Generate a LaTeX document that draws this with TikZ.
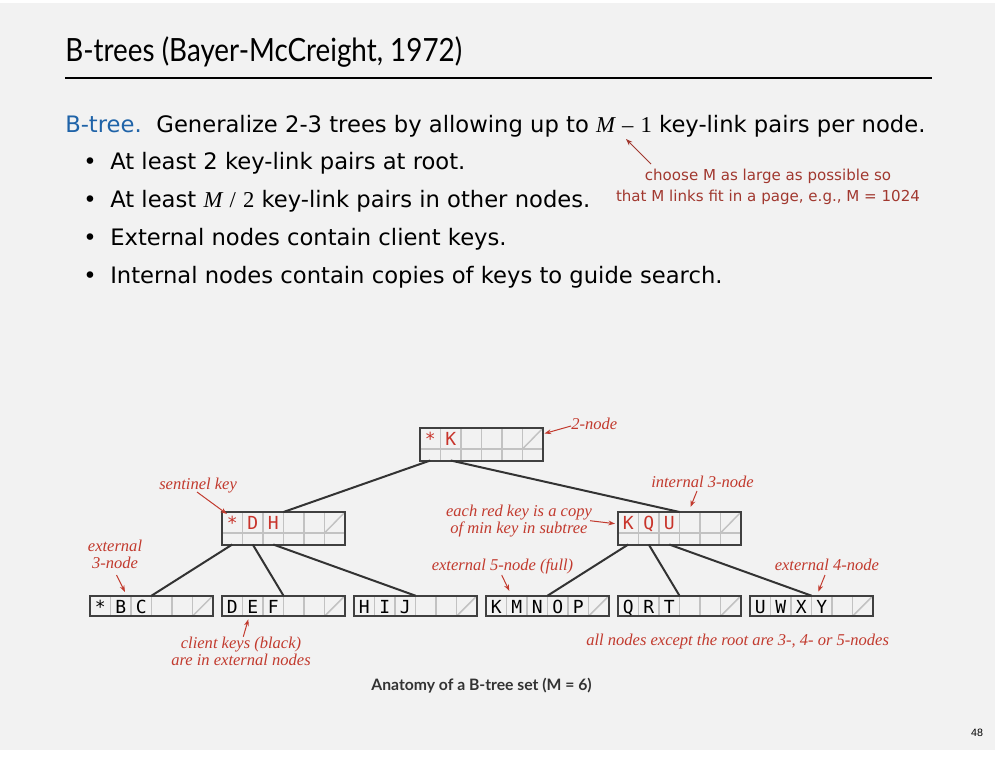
\documentclass[tikz,border=0pt]{standalone}
\usepackage{fontspec}
\usetikzlibrary{calc,arrows.meta}
\setmainfont{DejaVu Sans}
\newfontfamily\titlefont{Lato}
\newfontfamily\capfont{Lato}
\newfontfamily\keyfont{DejaVu Sans Mono}
\newfontfamily\serif{Liberation Serif}
\newfontfamily\numfont{Liberation Sans}

\definecolor{pagebg}{HTML}{F2F2F2}
\definecolor{kwblue}{HTML}{1F63A8}
\definecolor{notered}{HTML}{A1382F}
\definecolor{keyred}{HTML}{C8342B}
\definecolor{annred}{HTML}{C23A2E}
\definecolor{boxedge}{HTML}{404040}
\definecolor{cellline}{HTML}{C2C2C2}
\definecolor{linkgray}{HTML}{333333}

\tikzset{
  boxframe/.style={draw=boxedge, line width=1.5pt, inner sep=0pt, outer sep=0pt},
  cell/.style={draw=cellline, line width=1.1pt},
  key/.style={anchor=base, inner sep=0pt, font=\keyfont\fontsize{13.5}{15}\selectfont},
  link/.style={draw=linkgray, line width=1.5pt},
  ann/.style={inner sep=0pt, text=annred, font=\serif\itshape\fontsize{12.4}{12.6}\selectfont},
  annarrow/.style={draw=annred, line width=0.75pt, -{Stealth[length=5pt,width=3.6pt]}},
  bodyline/.style={anchor=base west, inner sep=0pt, font=\fontsize{17}{20}\selectfont},
  bullet/.style={anchor=base, inner sep=0pt, font=\fontsize{17}{20}\selectfont},
}

% internal B-tree node: name, left, top, keys (red copies)
\newcommand\inode[4]{%
  \foreach \c in {1,...,5} \draw[cell] ({#2+20.5*\c},#3) -- ({#2+20.5*\c},{#3+32.5});
  \draw[cell] (#2,{#3+21}) -- ({#2+123},{#3+21});
  \draw[cell] ({#2+102.5},{#3+21}) -- ({#2+123},#3);
  \node[boxframe, minimum width=92.25pt, minimum height=24.375pt, anchor=north west] (#1) at (#2,#3) {};
  \foreach \c in {0,...,5} \coordinate (#1-l\c) at ({#2+10.25+20.5*\c},{#3+32.5});
  \foreach \k [count=\i from 0] in {#4} \node[key, text=keyred] (#1-k\i) at ({#2+10.25+20.5*\i},{#3+17.6}) {\k};
}
% external B-tree node: name, left, top, keys (client keys)
\newcommand\enode[4]{%
  \foreach \c in {1,...,5} \draw[cell] ({#2+20.5*\c},#3) -- ({#2+20.5*\c},{#3+20.5});
  \draw[cell] ({#2+102.5},{#3+20.5}) -- ({#2+123},#3);
  \node[boxframe, minimum width=92.25pt, minimum height=15.375pt, anchor=north west] (#1) at (#2,#3) {};
  \foreach \k [count=\i from 0] in {#4} \node[key, text=black] (#1-k\i) at ({#2+10.25+20.5*\i},{#3+17.4}) {\k};
}

\begin{document}
\begin{tikzpicture}[x=0.75pt,y=-0.75pt]
\fill[white] (0,0) rectangle (999,757);
\fill[pagebg] (0,3) rectangle (995,750);
\useasboundingbox (0,0) rectangle (999,757);

% heading
\node[anchor=base west, inner sep=0pt] (title) at (65,61)
  {\titlefont\fontsize{24}{28}\selectfont\scalebox{0.87}[1]{B-trees (Bayer-McCreight, 1972)}};
\draw[line width=0.9pt] (65,78) -- (932,78);

% definition and bullet list
\node[bodyline] (intro) at (65,132) {\textcolor{kwblue}{B-tree.}\hspace{11pt}Generalize 2-3 trees by allowing up to {\serif\itshape M} {\serif –} {\serif 1} key-link pairs per node.};
\node[bullet] (b1) at (90,169) {•};
\node[bodyline] (t1) at (110,169) {At least 2 key-link pairs at root.};
\node[bullet] (b2) at (90,207) {•};
\node[bodyline] (t2) at (110,207) {At least {\serif\itshape M} {\serif /} {\serif 2} key-link pairs in other nodes.};
\node[bullet] (b3) at (90,245) {•};
\node[bodyline] (t3) at (110,245) {External nodes contain client keys.};
\node[bullet] (b4) at (90,283) {•};
\node[bodyline] (t4) at (110,283) {Internal nodes contain copies of keys to guide search.};

\node[inner sep=0pt, align=center, anchor=north, text=notered, font=\fontsize{11.3}{16.3}\selectfont] (choose) at (768,168.5)
  {choose M as large as possible so\\that M links fit in a page, e.g., M = 1024};
\coordinate (chooseTail) at (651,164);
\coordinate (chooseTip) at (626,139);
\draw[draw=notered, line width=0.75pt, -{Stealth[length=5pt,width=3.6pt]}] (chooseTail) -- (chooseTip);

% the tree
\inode{root}{420}{428}{*,K}
\inode{ndh}{222}{512}{*,D,H}
\inode{nkqu}{618}{512}{K,Q,U}
\enode{lbc}{90}{595.7}{*,B,C}
\enode{ldef}{222}{595.7}{D,E,F}
\enode{lhij}{354}{595.7}{H,I,J}
\enode{lkmnop}{486}{595.7}{K,M,N,O,P}
\enode{lqrt}{618}{595.7}{Q,R,T}
\enode{luwxy}{750}{595.7}{U,W,X,Y}

\draw[link] (root-l0) -- (ndh.north);
\draw[link] (root-l1) -- (nkqu.north);
\draw[link] (ndh-l0) -- (lbc.north);
\draw[link] (ndh-l1) -- (ldef.north);
\draw[link] (ndh-l2) -- (lhij.north);
\draw[link] (nkqu-l0) -- (lkmnop.north);
\draw[link] (nkqu-l1) -- (lqrt.north);
\draw[link] (nkqu-l2) -- (luwxy.north);

% annotations
\node[ann, anchor=base west] (a2node) at (571,429) {2-node};
\coordinate (a2tip) at (544.5,433.5);
\draw[annarrow] (571,426) -- (a2tip);

\node[ann, anchor=base west] (asent) at (159,489) {sentinel key};
\coordinate (asenttip) at (227,514);
\draw[annarrow] (197,492) -- (asenttip);

\node[ann, anchor=north, align=center] (aext3) at (115,539.5) {external\\3-node};
\coordinate (aext3tip) at (125,592);
\draw[annarrow] (116.5,575) -- (aext3tip);

\node[ann, anchor=base west] (aint3) at (651,487) {internal 3-node};
\coordinate (aint3tip) at (690.5,507);
\draw[annarrow] (697,491) -- (aint3tip);

\node[ann, anchor=north, align=center] (acopy) at (519,504.5) {each red key is a copy\\of min key in subtree};
\coordinate (acopytip) at (615,523.7);
\draw[annarrow] (590,520.7) -- (acopytip);

\node[ann, anchor=base west] (aext5) at (431.5,570.7) {external 5-node (full)};
\coordinate (aext5tip) at (509.3,591);
\draw[annarrow] (501.7,575) -- (aext5tip);

\node[ann, anchor=base west] (aext4) at (774.5,570.7) {external 4-node};
\coordinate (aext4tip) at (818.3,591.7);
\draw[annarrow] (825,575) -- (aext4tip);

\node[ann, anchor=north, align=center] (aclient) at (241,636.5) {client keys (black)\\are in external nodes};
\coordinate (aclienttip) at (248.3,619.3);
\draw[annarrow] (243.3,636.7) -- (aclienttip);

\node[ann, anchor=base west] (aall) at (586,645) {all nodes except the root are 3-, 4- or 5-nodes};

\node[anchor=base, inner sep=0pt, font=\capfont\bfseries\fontsize{11.8}{13}\selectfont, text=black!80] (caption) at (481.5,690) {Anatomy of a B-tree set (M = 6)};

\node[inner sep=0pt, font=\numfont\fontsize{8}{9}\selectfont] (pageno) at (977,733) {48};
\end{tikzpicture}
\end{document}
